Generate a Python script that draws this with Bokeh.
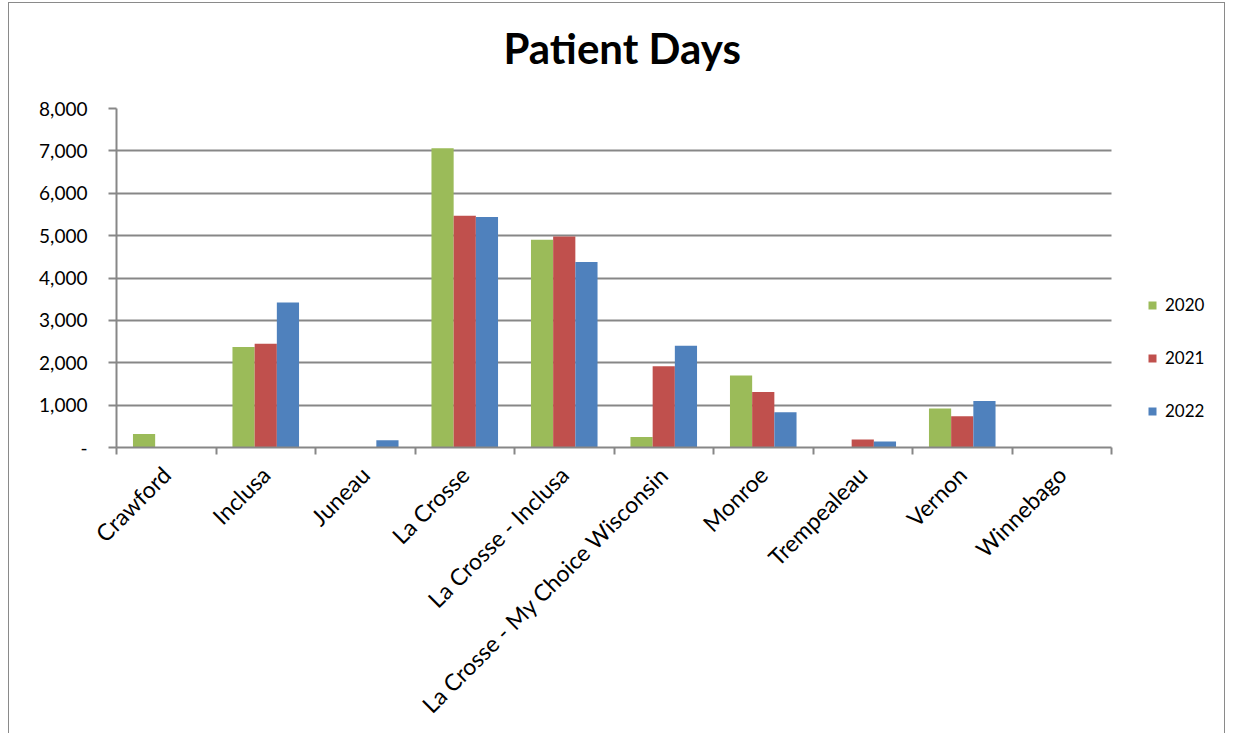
import numpy as np
from bokeh.plotting import figure
from bokeh.models import ColumnDataSource, FixedTicker, Legend, LegendItem, Title
from bokeh.transform import dodge
from bokeh.embed import file_html
from bokeh.resources import INLINE
from math import pi

# ---- data ----
categories = ["Crawford", "Inclusa", "Juneau", "La Crosse", "La Crosse - Inclusa",
              "La Crosse - My Choice Wisconsin", "Monroe", "Trempealeau", "Vernon", "Winnebago"]
years = ["2020", "2021", "2022"]
v2020 = [320, 2370, 0, 7060, 4900, 250, 1700, 0, 920, 0]
v2021 = [0, 2450, 0, 5470, 4980, 1920, 1310, 190, 740, 0]
v2022 = [0, 3420, 170, 5440, 4380, 2400, 830, 140, 1100, 0]
y_ticks = [0, 1000, 2000, 3000, 4000, 5000, 6000, 7000, 8000]
y_tick_labels = ["-", "1,000", "2,000", "3,000", "4,000", "5,000", "6,000", "7,000", "8,000"]
colors = ["#9BBB59", "#C0504D", "#4F81BD"]

FONT = "Lato"
GRAY = "#878787"

n = len(categories)
idx = list(range(n))
source = ColumnDataSource(dict(x=idx, v2020=v2020, v2021=v2021, v2022=v2022))

# category slot is ~99.5 px wide; the frame continues ~115 px right of the last slot for the legend
legend_space = 115 / 99.5
p = figure(width=1217, height=731, x_range=(-0.5, n - 0.5 + legend_space), y_range=(0, 8000),
           output_backend="svg", toolbar_location=None, title="Patient Days",
           min_border_left=107, min_border_right=0, min_border_top=105, min_border_bottom=287)
p.styles = {"margin-left": "8px", "margin-top": "2px",
            "border-left": "1px solid #8a8a8a", "border-top": "1px solid #8a8a8a",
            "border-right": "1px solid #8a8a8a"}

bw = 0.223
renderers = []
for k, (yr, col) in enumerate(zip(years, colors)):
    r = p.vbar(x=dodge("x", (k - 1) * bw, range=p.x_range), top="v" + yr, width=bw,
               source=source, fill_color=col, line_color=None)
    renderers.append(r)

# title (a blank spacer panel between title and plot area lifts the title)
p.title.text_font = FONT
p.title.text_font_size = "42px"
p.title.text_font_style = "bold"
p.title.align = "left"
p.title.offset = 387
p.title.text_color = "black"
p.title.standoff = 0
p.add_layout(Title(text=" ", text_font_size="1px", standoff=33), "above")

# axes / grid
p.outline_line_color = None
p.xgrid.visible = False
p.ygrid.ticker = FixedTicker(ticks=y_ticks)
p.ygrid.grid_line_color = GRAY
p.ygrid.grid_line_width = 2
p.ygrid.cross_bounds = (-0.5, n - 0.5)

ya = p.yaxis[0]
ya.ticker = FixedTicker(ticks=y_ticks)
ya.major_label_overrides = dict(zip(y_ticks, y_tick_labels))
ya.axis_line_color = GRAY
ya.axis_line_width = 2
ya.major_tick_line_color = GRAY
ya.major_tick_line_width = 2
ya.major_tick_out = 8
ya.major_tick_in = 0
ya.minor_tick_line_color = None
ya.major_label_text_font = FONT
ya.major_label_text_font_size = "19px"
ya.major_label_text_color = "black"
ya.major_label_standoff = 21

xa = p.xaxis[0]
xa.bounds = (-0.5, n - 0.5)
xa.ticker = FixedTicker(ticks=idx, minor_ticks=[i - 0.5 for i in range(n + 1)])
xa.major_label_overrides = dict(zip(idx, categories))
xa.major_label_orientation = pi / 4
xa.axis_line_color = GRAY
xa.axis_line_width = 2
xa.major_tick_line_color = None
xa.major_tick_out = 0
xa.major_tick_in = 0
xa.minor_tick_line_color = GRAY
xa.minor_tick_line_width = 2
xa.minor_tick_out = 7
xa.minor_tick_in = 0
xa.major_label_text_font = FONT
xa.major_label_text_font_size = "23px"
xa.major_label_text_color = "black"
xa.major_label_standoff = 16

legend = Legend(items=[LegendItem(label=yr, renderers=[r]) for yr, r in zip(years, renderers)],
                location=(1031, 26), orientation="vertical",
                glyph_width=10, glyph_height=10, label_height=20, spacing=32,
                label_standoff=8, padding=0, margin=0, border_line_color=None,
                background_fill_alpha=0,
                label_text_font=FONT, label_text_font_size="17px", label_text_color="black")
p.add_layout(legend, "center")

open("out.html", "w").write(file_html(p, INLINE))
